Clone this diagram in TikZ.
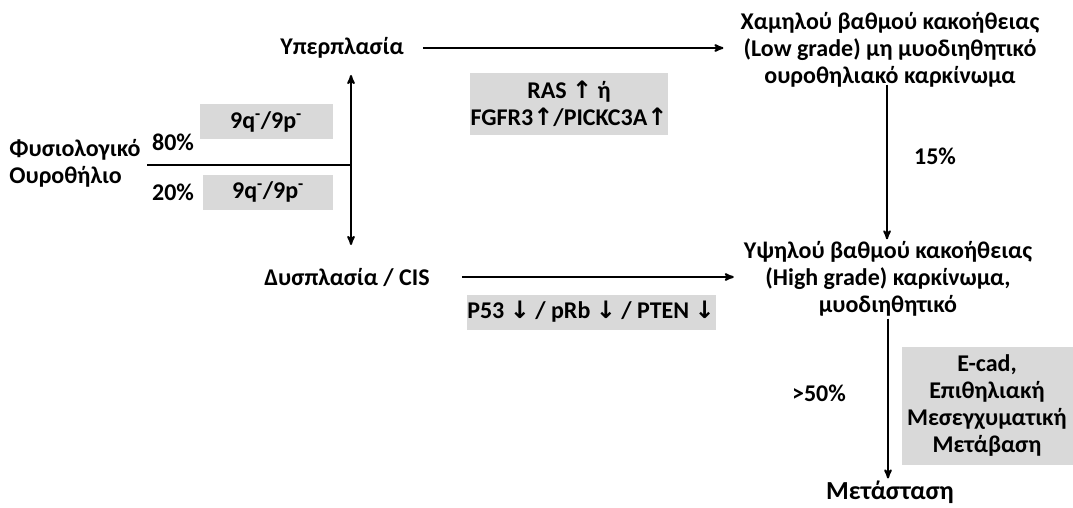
\documentclass[tikz,border=0pt]{standalone}
\usepackage{fontspec}
\setmainfont{Carlito}
\newfontfamily\arrowfont{DejaVu Sans}
\usetikzlibrary{positioning,arrows}
\newcommand{\upsym}{{\arrowfont↑}}
\newcommand{\downsym}{{\arrowfont↓}}
\tikzset{
    stage/.style={
        align=center,
        font=\bfseries\fontsize{24}{27}\selectfont,
        inner sep=2pt
    },
    marker/.style={
        rectangle,
        fill=gray!30,
        align=center,
        inner sep=0pt,
        font=\bfseries\fontsize{24}{27}\selectfont
    },
    pct/.style={
        font=\bfseries\fontsize{24}{27}\selectfont
    },
    arrow/.style={
        ->,
        >=stealth',
        line width=2pt
    }
}

\begin{document}
\begin{tikzpicture}[x=1pt, y=-1pt]
    \useasboundingbox (0,0) rectangle (1073,508);

    % stages
    \node[stage, align=left] (normal) at (75,163) {Φυσιολογικό\\Ουροθήλιο};
    \node[stage] (hyper) at (342,48) {Υπερπλασία};
    \node[stage] (dys) at (347,277) {Δυσπλασία / CIS};
    \node[stage] (low) at (890,50) {Χαμηλού βαθμού κακοήθειας\\(Low grade) μη μυοδιηθητικό\\ουροθηλιακό καρκίνωμα};
    \node[stage] (high) at (888,279) {Υψηλού βαθμού κακοήθειας\\(High grade) καρκίνωμα,\\μυοδιηθητικό};
    \node[stage, font=\bfseries\fontsize{26}{30}\selectfont] (meta) at (890,492) {Μετάσταση};

    % percentages
    \node[pct] (p80) at (173,142) {80\%};
    \node[pct] (p20) at (173,192) {20\%};
    \node[pct] (p15) at (935,156) {15\%};
    \node[pct] (p50) at (819,393) {>50\%};

    % grey boxes
    \node[marker, minimum width=133, minimum height=35] (loss1) at (266,122) {9q\textsuperscript{-}/9p\textsuperscript{-}};
    \node[marker, minimum width=130, minimum height=35] (loss2) at (268,192) {9q\textsuperscript{-}/9p\textsuperscript{-}};
    \node[marker, minimum width=198, minimum height=62] (ras) at (569,104) {RAS \upsym{} ή\\FGFR3\upsym/PICKC3A\upsym};
    \node[marker, minimum width=249, minimum height=35] (p53) at (591,312) {P53 \downsym{} / pRb \downsym{} / PTEN \downsym};
    \node[marker, minimum width=171, minimum height=118] (ecad) at (987,406) {E-cad,\\Επιθηλιακή\\Μεσεγχυματική\\Μετάβαση};

    % connectors
    \coordinate (start) at (147,165);
    \coordinate (split) at (351,165);
    \coordinate (hyperin) at (351,75);
    \coordinate (dysin) at (351,245);
    \draw[line width=2pt] (start) -- (split);
    \draw[arrow] (split) -- (hyperin);
    \draw[arrow] (split) -- (dysin);
    \draw[arrow, shorten <=17pt, shorten >=15pt] (hyper.east) -- (hyper.east -| low.west);
    \draw[arrow, shorten <=30pt, shorten >=8pt] (dys.east) -- (dys.east -| high.west);
    \draw[arrow, shorten <=-5pt] (low.south) ++(-3,0) coordinate (lowout) -- (lowout |- high.north);
    \draw[arrow] (high.south) -- (high.south |- meta.north);
\end{tikzpicture}
\end{document}
